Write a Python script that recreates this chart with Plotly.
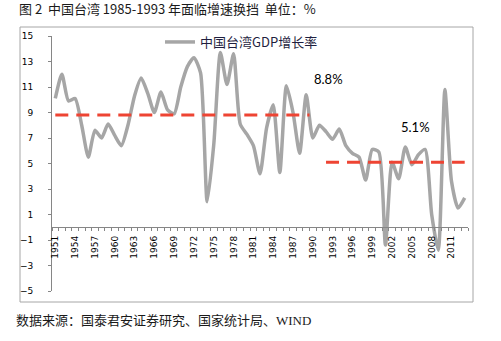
import plotly.graph_objects as go

# Taiwan real GDP growth (%), 1951-2013
years = list(range(1951, 2014))
gdp_growth = [
    10.1, 12.0, 9.9, 10.1, 8.0, 5.5, 7.6, 7.0, 8.1, 7.2,
    6.4, 8.0, 10.3, 11.7, 10.5, 9.0, 10.6, 9.2, 8.9, 11.0,
    12.6, 13.3, 12.1, 2.0, 6.5, 13.7, 11.2, 13.6, 8.1, 7.3,
    6.4, 4.2, 7.8, 9.6, 4.3, 11.1, 9.0, 5.8, 10.4, 7.0,
    8.0, 7.5, 6.9, 7.7, 6.4, 5.8, 5.5, 3.7, 6.1, 5.9,
    -1.4, 5.1, 3.8, 6.3, 4.9, 5.7, 6.1, 1.0, -1.8, 10.8,
    3.6, 1.5, 2.3,
]

# Period averages shown as dashed reference lines
avg_start = [1951, 1992]
avg_end = [1989.5, 2013]
avg_value = [8.8, 5.1]
avg_labels = ["8.8%", "5.1%"]
avg_label_x = [1992.4, 2005.6]
avg_label_y = [11.65, 7.9]

series_name = "中国台湾GDP增长率"
title_text = "图 2  中国台湾 1985-1993 年面临增速换挡  单位：%"
source_text = "数据来源：国泰君安证券研究、国家统计局、WIND"

y_tickvals = list(range(-5, 16, 2))
x_tickvals = list(range(1951, 2012, 3))

W, H = 501, 341
ML, MR, MT, MB = 52, 33, 36, 50
PW, PH = W - ML - MR, H - MT - MB


def px_x(px):
    return (px - ML) / PW


def px_y(py):
    return (H - MB - py) / PH


fig = go.Figure()

fig.add_trace(go.Scatter(
    x=years, y=gdp_growth, mode="lines", name=series_name,
    line=dict(color="#A6A6A6", width=3.5, shape="spline", smoothing=0.6),
))

for x0, x1, v in zip(avg_start, avg_end, avg_value):
    fig.add_trace(go.Scatter(
        x=[x0, x1], y=[v, v], mode="lines", showlegend=False,
        line=dict(color="#EE4433", width=3, dash="13px,8px"),
        hoverinfo="skip",
    ))

annotations = []
for lx, ly, txt in zip(avg_label_x, avg_label_y, avg_labels):
    annotations.append(dict(
        x=lx, y=ly, xref="x", yref="y", text=txt, showarrow=False,
        font=dict(family="Lato", size=13, color="#000000"),
    ))

annotations.append(dict(
    x=px_x(17), y=px_y(8.7), xref="paper", yref="paper", text=title_text,
    showarrow=False, xanchor="left", yanchor="middle",
    font=dict(family="Noto Sans CJK SC", size=13, color="#1a1a1a"),
))
annotations.append(dict(
    x=px_x(14), y=px_y(320), xref="paper", yref="paper", text=source_text,
    showarrow=False, xanchor="left", yanchor="middle",
    font=dict(family="Liberation Serif, Noto Sans CJK SC", size=13, color="#1a1a1a"),
))

fig.update_layout(
    width=W, height=H,
    margin=dict(l=ML, r=MR, t=MT, b=MB, autoexpand=False),
    paper_bgcolor="white", plot_bgcolor="white",
    showlegend=True,
    legend=dict(
        x=px_x(160), y=px_y(27), xanchor="left", yanchor="top",
        bgcolor="rgba(0,0,0,0)",
        font=dict(family="Noto Sans CJK SC", size=13, color="#1F1F3F"),
    ),
    annotations=annotations,
    shapes=[dict(
        type="rect", xref="paper", yref="paper",
        x0=px_x(20), x1=px_x(473), y0=px_y(302), y1=px_y(27),
        line=dict(color="#A6A6A6", width=1), fillcolor="rgba(0,0,0,0)",
        layer="below",
    )],
)

fig.update_yaxes(
    range=[-5, 15], tickvals=y_tickvals, showgrid=False, zeroline=False,
    showline=True, linecolor="#868686", linewidth=1,
    ticks="outside", ticklen=3, tickcolor="#868686",
    ticklabelstandoff=13, automargin=False,
    tickfont=dict(family="DejaVu Sans", size=9, color="#000000"),
)

fig.update_xaxes(
    range=[1950.5, 2013.5], tickvals=x_tickvals, tickangle=-90,
    showgrid=False, zeroline=False,
    anchor="free", position=(0 - (-5)) / 20,
    showline=True, linecolor="#868686", linewidth=1,
    ticks="", automargin=False,
    minor=dict(tick0=1950.5, dtick=1, ticks="outside", ticklen=3,
               tickcolor="#868686", showgrid=False),
    ticklabelstandoff=4,
    tickfont=dict(family="DejaVu Sans", size=9, color="#000000"),
)

fig.write_html("out.html")
